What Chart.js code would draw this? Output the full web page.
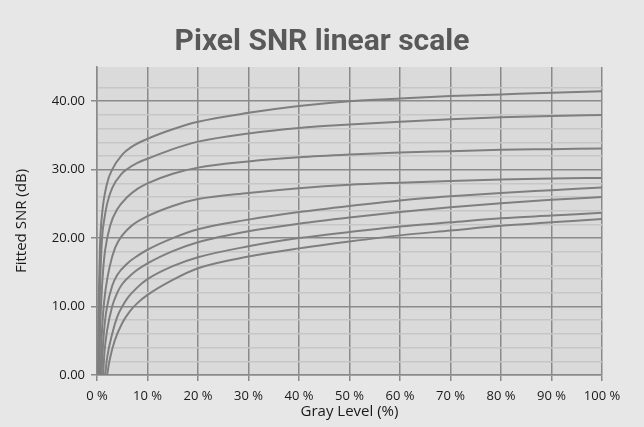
<!DOCTYPE html>
<html>
<head>
<meta charset="utf-8">
<script src="https://cdn.jsdelivr.net/npm/chart.js@4"></script>
<style>
  body { margin: 0; background: #e7e7e7; }
</style>
</head>
<body>
<canvas id="chart-snr" width="644" height="427"></canvas>
<script>
// Gray level (%) and fitted SNR (dB) for each curve, top to bottom
const snr1Gray = [0.2, 0.3, 0.4, 0.6, 1, 2, 3, 5, 7, 10, 15, 20, 30, 40, 50, 60, 70, 80, 90, 100];
const snr1Db = [0, 8, 13, 19, 23.5, 28, 30, 32.2, 33.4, 34.5, 35.9, 37.0, 38.3, 39.3, 40.0, 40.4, 40.75, 41.0, 41.25, 41.45];

const snr2Gray = [0.3, 0.45, 0.6, 1, 1.5, 2, 3, 5, 6, 8, 10, 15, 20, 30, 40, 50, 60, 70, 80, 90, 100];
const snr2Db = [0, 8, 13, 20, 23, 25, 27.3, 29.5, 30.1, 31.0, 31.6, 33.0, 34.1, 35.3, 36.1, 36.6, 37.0, 37.35, 37.65, 37.85, 38.0];

const snr3Gray = [0.45, 0.6, 0.85, 1.2, 1.6, 2.6, 4, 6, 8, 10, 15, 20, 30, 40, 50, 60, 70, 80, 90, 100];
const snr3Db = [0, 6, 11, 15.2, 18.2, 21.8, 24.2, 26.0, 27.2, 28.0, 29.4, 30.3, 31.2, 31.8, 32.2, 32.5, 32.7, 32.9, 33.0, 33.1];

const snr4Gray = [0.7, 0.9, 1.2, 1.7, 2.5, 3.6, 5, 7, 10, 15, 20, 30, 40, 50, 60, 70, 80, 90, 100];
const snr4Db = [0, 5, 9, 12.5, 15.8, 18.6, 20.4, 21.9, 23.2, 24.7, 25.7, 26.6, 27.3, 27.8, 28.1, 28.35, 28.55, 28.7, 28.8];

const snr5Gray = [0.9, 1.2, 1.6, 2, 3, 4, 6, 8, 10, 15, 20, 30, 40, 50, 60, 70, 80, 90, 100];
const snr5Db = [0, 4.5, 8, 10, 13, 14.6, 16.3, 17.4, 18.3, 20.0, 21.3, 22.7, 23.8, 24.7, 25.5, 26.1, 26.6, 27.0, 27.4];

const snr6Gray = [1.2, 1.5, 2, 3, 4, 5, 7, 10, 15, 20, 30, 40, 50, 60, 70, 80, 90, 100];
const snr6Db = [0, 3.5, 6.5, 10, 12, 13.3, 14.8, 16.3, 18.1, 19.4, 21.0, 22.1, 23.0, 23.8, 24.5, 25.1, 25.6, 26.0];

const snr7Gray = [1.6, 2, 3, 4, 5, 6, 8, 10, 15, 20, 30, 40, 50, 60, 70, 80, 90, 100];
const snr7Db = [0, 2.5, 6, 8.5, 10, 11.2, 12.8, 14.0, 15.9, 17.2, 18.8, 20.0, 20.9, 21.7, 22.3, 22.9, 23.3, 23.7];

const snr8Gray = [2, 2.5, 3.5, 5, 6.5, 8, 10, 15, 20, 30, 40, 50, 60, 70, 80, 90, 100];
const snr8Db = [0, 2.2, 5, 7.6, 9.3, 10.5, 11.7, 13.9, 15.6, 17.3, 18.5, 19.5, 20.4, 21.1, 21.8, 22.3, 22.8];

const curves = [
  [snr1Gray, snr1Db], [snr2Gray, snr2Db], [snr3Gray, snr3Db], [snr4Gray, snr4Db],
  [snr5Gray, snr5Db], [snr6Gray, snr6Db], [snr7Gray, snr7Db], [snr8Gray, snr8Db],
];

const majorGrid = "#8a8a8a";
const minorGrid = "#c6c6c6";

// paint the grey background and the plot area
const plotBackground = {
  id: "plotBackground",
  beforeDraw(chart) {
    const { ctx, chartArea } = chart;
    ctx.save();
    ctx.fillStyle = "#e7e7e7";
    ctx.fillRect(0, 0, chart.width, chart.height);
    ctx.fillStyle = "#dadada";
    ctx.fillRect(chartArea.left, chartArea.top, chartArea.right - chartArea.left, chartArea.bottom - chartArea.top);
    ctx.restore();
  },
};

new Chart(document.getElementById("chart-snr"), {
  type: "line",
  data: {
    datasets: curves.map(([gray, db]) => ({
      data: gray.map((g, i) => ({ x: g, y: db[i] })),
      borderColor: "#7f7f7f",
      borderWidth: 2,
      pointRadius: 0,
      cubicInterpolationMode: "monotone",
      fill: false,
    })),
  },
  options: {
    responsive: false,
    animation: false,
    devicePixelRatio: 1,
    layout: { padding: 0 },
    plugins: {
      legend: { display: false },
      tooltip: { enabled: false },
      title: {
        display: true,
        text: "Pixel SNR linear scale",
        color: "#595959",
        font: { family: "Roboto", size: 30, weight: "bold" },
        padding: { top: 24, bottom: 7 },
      },
    },
    scales: {
      x: {
        type: "linear",
        min: 0,
        max: 100,
        afterFit: (scale) => { scale.height = 52; },
        ticks: {
          stepSize: 10,
          color: "#1a1a1a",
          font: { family: "Open Sans", size: 13 },
          padding: 7,
          maxRotation: 0,
          callback: (v) => v + " %",
        },
        grid: { color: majorGrid, lineWidth: 1.5, tickLength: 6, tickColor: majorGrid },
        border: { color: majorGrid, width: 1.5 },
        title: {
          display: true,
          text: "Gray Level (%)",
          color: "#1a1a1a",
          font: { family: "Open Sans", size: 15 },
          padding: { top: 0, bottom: 6 },
        },
      },
      y: {
        min: 0,
        max: 45,
        afterFit: (scale) => { scale.width = 97; },
        ticks: {
          stepSize: 2,
          autoSkip: false,
          color: "#1a1a1a",
          font: { family: "Open Sans", size: 13 },
          padding: 6,
          callback: (v) => (v % 10 === 0 ? v.toFixed(2) : ""),
        },
        grid: {
          lineWidth: 1.5,
          tickLength: 6,
          color: (c) => (c.tick.value === 45 ? "transparent" : c.tick.value % 10 === 0 ? majorGrid : minorGrid),
          tickColor: (c) => (c.tick.value % 10 === 0 ? majorGrid : "transparent"),
        },
        border: { color: majorGrid, width: 1.5 },
        title: {
          display: true,
          text: "Fitted SNR (dB)",
          color: "#1a1a1a",
          font: { family: "Open Sans", size: 15 },
          padding: { top: 13, bottom: 0 },
        },
      },
      // empty right-hand margin so the title centres on the whole picture
      yRight: {
        position: "right",
        afterFit: (scale) => { scale.width = 42; },
        grid: { display: false },
        ticks: { display: false },
        border: { display: false },
      },
    },
  },
  plugins: [plotBackground],
});
</script>
</body>
</html>
